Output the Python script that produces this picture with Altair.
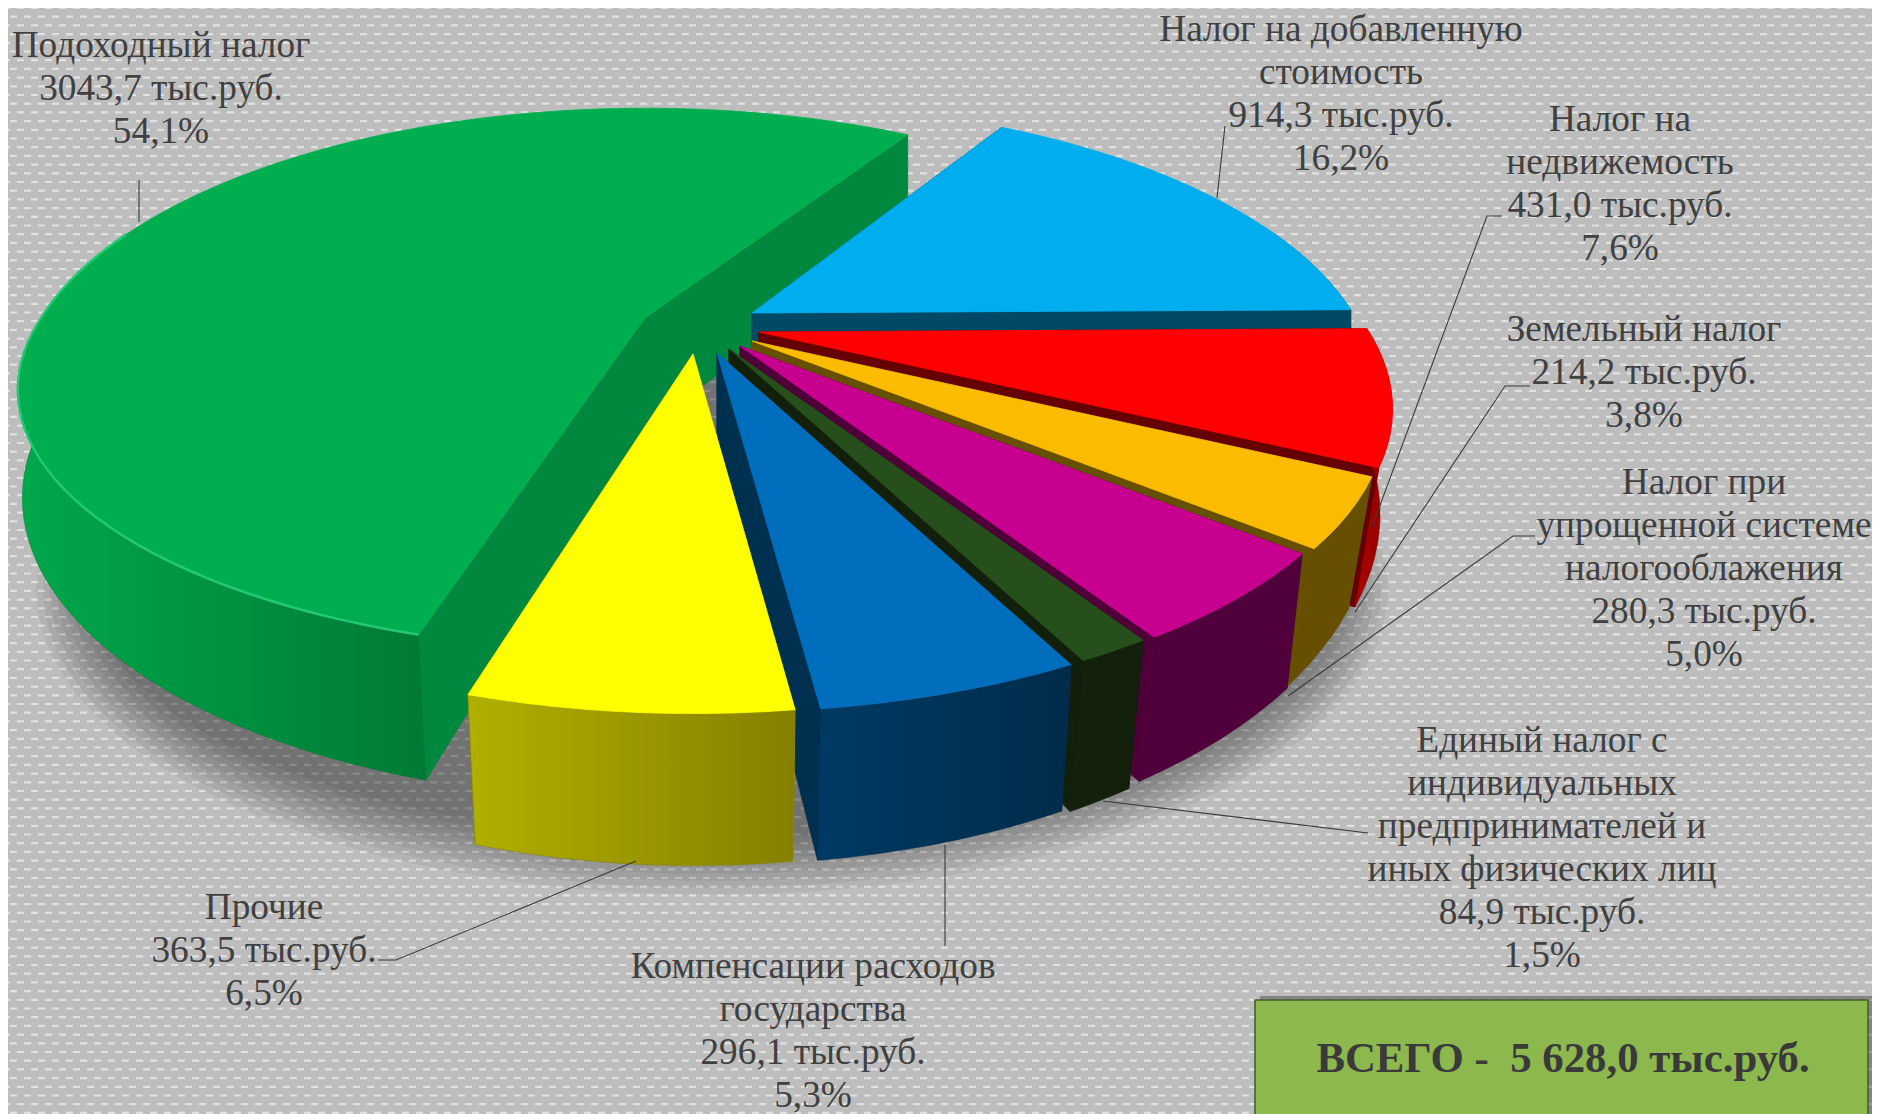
import math
import altair as alt
import pandas as pd

# ---- data (clockwise from the VAT slice)
NAMES = ["Налог на добавленную\nстоимость", "Налог на\nнедвижемость", "Земельный налог",
         "Налог при\nупрощенной системе\nналогооблажения",
         "Единый налог с\nиндивидуальных\nпредпринимателей и\nиных физических лиц",
         "Компенсации расходов\nгосударства", "Прочие", "Подоходный налог"]
VALUES = [914.3, 431.0, 214.2, 280.3, 84.9, 296.1, 363.5, 3043.7]
VALUE_TEXT = ["914,3", "431,0", "214,2", "280,3", "84,9", "296,1", "363,5", "3043,7"]
PCT = [16.2, 7.6, 3.8, 5.0, 1.5, 5.3, 6.5, 54.1]
PCT_TEXT = ["16,2%", "7,6%", "3,8%", "5,0%", "1,5%", "5,3%", "6,5%", "54,1%"]
TOTAL_TEXT = "ВСЕГО -\u00a0 5 628,0 тыс.руб."

# ---- styling
TOP = ["#00aeef", "#ff0000", "#fbbc00", "#c80090", "#264f1c", "#006ebc", "#ffff00", "#00ae4f"]
SIDE = ["#004a66", "#660000", "#665000", "#500038", "#111f0b", "#00304f", "#8a8a00", "#00883e"]
RIM_L = ["#004a66", "#b00000", "#665000", "#50003a", "#12200c", "#003a64", "#b0b000", "#00a84c"]
RIM_R = ["#004a66", "#8a0000", "#665000", "#50003a", "#12200c", "#002c4a", "#858000", "#007a36"]
APEX = [(752, 313), (759, 332), (752, 341), (740, 346), (729, 349), (717, 353), (693, 354), (645, 318)]
FRONT_Y = [1, 1, 1, 1, 1, 1, 1, 0.93]
END_TWEAK = [0, 0, 0, 0, 0, 0, 0, 1.5]
RAD_K = [0.985, 1, 1, 1, 1, 1, 0.985, 0.99]
DROP_K = [0.03, 0.08, 0.08, 0.04, 0.04, 0.03, 0.03, 0.025]
DEPTH_K = [1, 1.1, 1.05, 1.0, 1.03, 1, 1, 0.97]
START = 30.8
R, T, D, PX, PY = 610.0, 265.0, 111.0, 0.27, 0.263
W, H = 1864, 1106
XS = alt.Scale(domain=[8, 8 + W], range=[0, W], nice=False, zero=False)
YS = alt.Scale(domain=[8, 8 + H], range=[0, H], nice=False, zero=False)
NOAX = None


def enc(df_mark):
    return df_mark.encode(
        x=alt.X("x:Q", scale=XS, axis=NOAX),
        y=alt.Y("y:Q", scale=YS, axis=NOAX),
        order=alt.Order("i:Q"),
    )


def poly(pts, fill, stroke=None, width=0.8, opacity=1.0):
    df = pd.DataFrame({"x": [p[0] for p in pts], "y": [p[1] for p in pts], "i": range(len(pts))})
    if isinstance(fill, str) and stroke is None:
        stroke = fill
    kw = dict(fill=fill, strokeWidth=width, opacity=opacity)
    kw["stroke"] = stroke if stroke else "#00000000"
    return enc(alt.Chart(df).mark_line(**kw))


def path(pts, color, width=1.2):
    df = pd.DataFrame({"x": [p[0] for p in pts], "y": [p[1] for p in pts], "i": range(len(pts))})
    return enc(alt.Chart(df).mark_line(color=color, strokeWidth=width))


def rimpt(apex, phi, fy, rk):
    X, Y = math.sin(phi), -math.cos(phi)
    sx = 1.0 / (1.0 - PX * Y)
    sy = 1.0 / (1.0 - PY * Y)
    f = fy if Y > 0 else 1.0
    return (apex[0] + X * R * rk * sx, apex[1] + Y * T * sy * f), sx, Y


def drop(p, s, Y, slice_i):
    k = 1.0 - DROP_K[slice_i] * max(0.0, Y)
    return (720 + (p[0] - 720) * k, p[1] + D * DEPTH_K[slice_i] * max(s, 1.0))


layers = []
# background
bg = pd.DataFrame({"x": [8], "x2": [8 + W], "y": [8], "y2": [8 + H]})
layers.append(alt.Chart(bg).mark_rect(color="#bdbdbd").encode(
    x=alt.X("x:Q", scale=XS, axis=NOAX), x2="x2:Q",
    y=alt.Y("y:Q", scale=YS, axis=NOAX), y2="y2:Q"))
rows = [8 + 8.7 * k for k in range(int(H / 8.7) + 2)]
for off, sub in ((0, rows[0::2]), (7, rows[1::2])):
    layers.append(alt.Chart(pd.DataFrame({"y": sub})).mark_rule(
        color="#eeeeee", strokeWidth=2.2, opacity=0.75, strokeDash=[7, 7], strokeDashOffset=off
    ).encode(y=alt.Y("y:Q", scale=YS, axis=NOAX)))

# soft shadow under the pie
for g in range(9):
    grow = g * 7
    th = [2 * math.pi * k / 90 for k in range(91)]
    pts = [(712 + (620 + grow) * math.cos(a), 590 + (249 + grow) * math.sin(a)) for a in th]
    layers.append(poly(pts, "#000000", width=0, opacity=0.05))

# slices, back to front
total = sum(VALUES)
angles = [START]
for v in VALUES:
    angles.append(angles[-1] + 360.0 * v / total)
order = [7, 0, 1, 2, 3, 4, 5, 6]
for k in order:
    a0, a1 = math.radians(angles[k]), math.radians(angles[k + 1] + END_TWEAK[k])
    apex = APEX[k]
    n = max(6, int((a1 - a0) / math.radians(2)))
    rim = [rimpt(apex, a0 + (a1 - a0) * j / n, FRONT_Y[k], RAD_K[k]) for j in range(n + 1)]
    top = [p for p, s, y in rim]
    bot = [drop(p, s, y, k) for p, s, y in rim]
    abot = drop(apex, 1.0, 0.0, k)
    # radial walls
    layers.append(poly([apex, top[0], bot[0], abot, apex], SIDE[k]))
    layers.append(poly([apex, top[-1], bot[-1], abot, apex], SIDE[k]))
    # outer wall: only front facing part
    idx = [j for j in range(n + 1) if rim[j][2] > -0.35]
    if idx:
        ft, fb = [top[j] for j in idx], [bot[j] for j in idx]
        grad = {"gradient": "linear", "x1": 0, "x2": 1, "y1": 0, "y2": 0,
                "stops": [{"offset": 0, "color": RIM_L[k]}, {"offset": 1, "color": RIM_R[k]}]}
        layers.append(poly(ft + fb[::-1] + [ft[0]], grad, stroke=RIM_R[k], width=0.5))
    # top face
    layers.append(poly([apex] + top + [apex], TOP[k]))
    if k == 7:
        layers.append(path([top[j] for j in idx], "#22c873", 2.5))

# leader lines
LEADERS = [
    [(139, 180), (139, 222)],
    [(1225, 126), (1217, 198)],
    [(1502, 216), (1487, 216), (1372, 527)],
    [(1530, 386), (1505, 386), (1355, 612)],
    [(1535, 536), (1513, 536), (1288, 696)],
    [(1368, 833), (1103, 801)],
    [(945, 946), (945, 845)],
    [(378, 960), (396, 960), (636, 861)],
]
for seg in LEADERS:
    layers.append(path(seg, "#3a3a3a", 1.1))

# labels
LABEL_POS = [(1341, 41), (1620, 131), (1644, 341), (1704, 494), (1542, 752), (813, 978), (264, 919), (161, 57)]
lab = pd.DataFrame({
    "x": [p[0] for p in LABEL_POS], "y": [p[1] for p in LABEL_POS],
    "t": [f"{n}\n{v} тыс.руб.\n{q}" for n, v, q in zip(NAMES, VALUE_TEXT, PCT_TEXT)],
})
layers.append(alt.Chart(lab).mark_text(
    font="Liberation Serif", fontSize=37.3, color="#404040", align="center", baseline="alphabetic",
    lineBreak="\n", lineHeight=43
).encode(x=alt.X("x:Q", scale=XS, axis=NOAX), y=alt.Y("y:Q", scale=YS, axis=NOAX), text="t:N"))

# total box
box = pd.DataFrame({"x": [1255], "x2": [1868], "y": [1000], "y2": [8 + H + 10]})
shadow = pd.DataFrame({"x": [1260], "x2": [1873], "y": [996], "y2": [8 + H + 10]})
layers.append(alt.Chart(shadow).mark_rect(color="#000000", opacity=0.3).encode(
    x=alt.X("x:Q", scale=XS, axis=NOAX), x2="x2:Q", y=alt.Y("y:Q", scale=YS, axis=NOAX), y2="y2:Q"))
layers.append(alt.Chart(box).mark_rect(color="#8cb84e", stroke="#3f5c24", strokeWidth=1.5).encode(
    x=alt.X("x:Q", scale=XS, axis=NOAX), x2="x2:Q", y=alt.Y("y:Q", scale=YS, axis=NOAX), y2="y2:Q"))
tot = pd.DataFrame({"x": [1563], "y": [1072], "t": [TOTAL_TEXT]})
layers.append(alt.Chart(tot).mark_text(
    font="Liberation Serif", fontSize=42.8, fontWeight="bold", color="#3a3a3a", align="center", baseline="alphabetic"
).encode(x=alt.X("x:Q", scale=XS, axis=NOAX), y=alt.Y("y:Q", scale=YS, axis=NOAX), text="t:N"))

chart = alt.layer(*layers).properties(width=W, height=H, padding=0, background="#bdbdbd").configure_view(
    stroke=None, clip=True
)
chart.save("out.html", embed_options={"renderer": "svg", "actions": False})
